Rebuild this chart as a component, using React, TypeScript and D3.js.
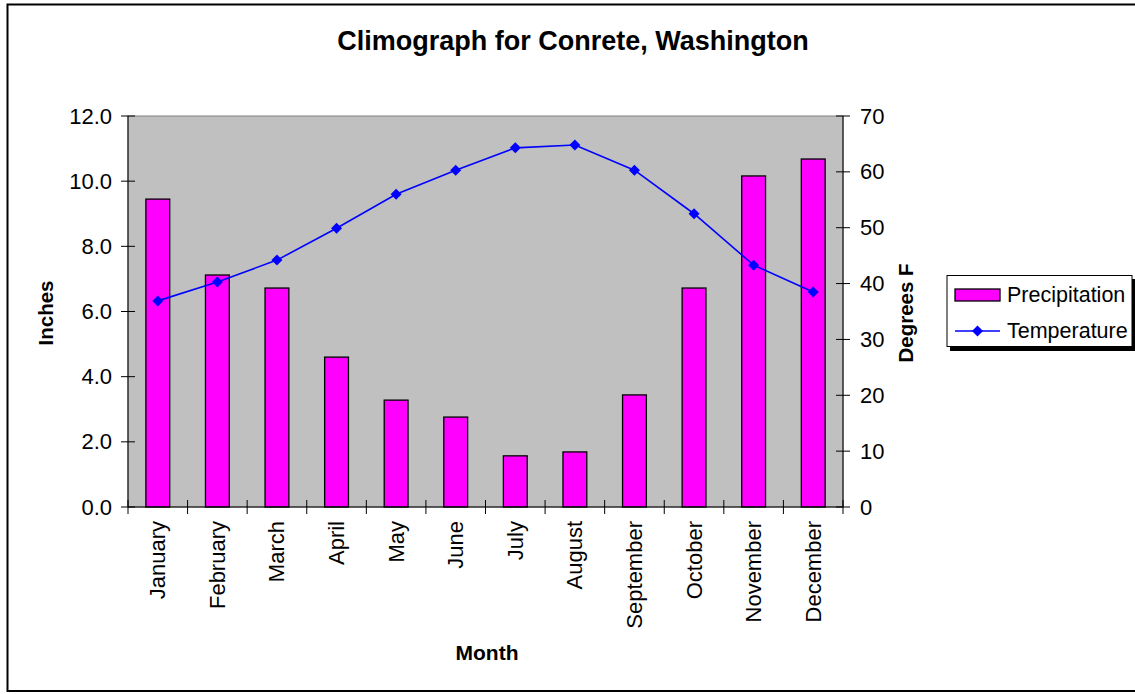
import * as d3 from "d3";

const months = ["January", "February", "March", "April", "May", "June", "July", "August", "September", "October", "November", "December"];
const precipitation = [9.45, 7.12, 6.72, 4.6, 3.28, 2.76, 1.57, 1.69, 3.44, 6.72, 10.16, 10.68];
const temperature = [36.9, 40.3, 44.2, 49.9, 56.0, 60.3, 64.3, 64.8, 60.3, 52.5, 43.3, 38.5];
const inchTicks = [0, 2, 4, 6, 8, 10, 12];
const degTicks = [0, 10, 20, 30, 40, 50, 60, 70];

export default function App() {
  const width = 1135,
    height = 694;
  const left = 128,
    right = 843,
    top = 116,
    bottom = 507,
    tick = 7,
    font = "'Liberation Sans', Arial, sans-serif";

  const x = d3.scaleBand<string>().domain(months).range([left, right]).paddingInner(0).paddingOuter(0);
  const barW = x.bandwidth() / 2.5;
  const yL = d3.scaleLinear().domain([0, 12]).range([bottom, top]);
  const yR = d3.scaleLinear().domain([0, 70]).range([bottom, top]);

  const line = d3
    .line<number>()
    .x((d, i) => (x(months[i]) as number) + x.bandwidth() / 2)
    .y((d) => yR(d));

  const diamond = (cx: number, cy: number, r: number) =>
    `M${cx},${cy - r}L${cx + r},${cy}L${cx},${cy + r}L${cx - r},${cy}Z`;

  return (
    <svg
      width={width}
      height={height}
      style={{ position: "absolute", left: 0, top: 0, background: "#fff" }}
      fontFamily={font}
    >
      <rect x={7.5} y={4.5} width={1140} height={686.5} fill="#fff" stroke="#000" strokeWidth={2} />
      <text x={573} y={50} textAnchor="middle" fontSize={27} fontWeight="bold">
        Climograph for Conrete, Washington
      </text>

      {/* plot area */}
      <rect x={left} y={top} width={right - left} height={bottom - top} fill="#c0c0c0" stroke="#808080" strokeWidth={1} />

      {/* bars */}
      {months.map((m, i) => (
        <rect
          key={m}
          x={(x(m) as number) + (x.bandwidth() - barW) / 2}
          y={yL(precipitation[i])}
          width={barW}
          height={bottom - yL(precipitation[i])}
          fill="#ff00ff"
          stroke="#000"
          strokeWidth={1.3}
        />
      ))}

      {/* temperature line */}
      <path d={line(temperature) || ""} fill="none" stroke="#0000ff" strokeWidth={1.6} />
      {temperature.map((t, i) => (
        <path
          key={i}
          d={diamond((x(months[i]) as number) + x.bandwidth() / 2, yR(t), 5.5)}
          fill="#0000ff"
        />
      ))}

      {/* left axis */}
      <line x1={left} y1={top} x2={left} y2={bottom} stroke="#000" />
      {inchTicks.map((v) => (
        <g key={v}>
          <line x1={left - tick} x2={left + tick} y1={yL(v)} y2={yL(v)} stroke="#000" />
          <text x={left - 16} y={yL(v)} textAnchor="end" dominantBaseline="central" fontSize={22}>
            {v.toFixed(1)}
          </text>
        </g>
      ))}

      {/* right axis */}
      <line x1={right} y1={top} x2={right} y2={bottom} stroke="#000" />
      {degTicks.map((v) => (
        <g key={v}>
          <line x1={right - tick} x2={right + tick} y1={yR(v)} y2={yR(v)} stroke="#000" />
          <text x={right + 17} y={yR(v)} textAnchor="start" dominantBaseline="central" fontSize={22}>
            {v}
          </text>
        </g>
      ))}

      {/* bottom axis */}
      <line x1={left} y1={bottom} x2={right} y2={bottom} stroke="#000" />
      {d3.range(months.length + 1).map((i) => {
        const xx = left + i * x.bandwidth();
        return <line key={i} x1={xx} x2={xx} y1={bottom - tick} y2={bottom + tick} stroke="#000" />;
      })}
      {months.map((m) => {
        const cx = (x(m) as number) + x.bandwidth() / 2;
        return (
          <text
            key={m}
            transform={`translate(${cx} ${bottom + 14}) rotate(-90)`}
            textAnchor="end"
            dominantBaseline="central"
            fontSize={22}
          >
            {m}
          </text>
        );
      })}

      {/* axis titles */}
      <text transform="translate(45 313) rotate(-90)" textAnchor="middle" dominantBaseline="central" fontSize={20.5} fontWeight="bold">
        Inches
      </text>
      <text transform="translate(905 313) rotate(-90)" textAnchor="middle" dominantBaseline="central" fontSize={20.5} fontWeight="bold">
        Degrees F
      </text>
      <text x={487} y={660} textAnchor="middle" fontSize={21} fontWeight="bold">
        Month
      </text>

      {/* legend */}
      <rect x={950} y={279} width={186} height={72} fill="#000" />
      <rect x={947} y={275.5} width={185} height={71} fill="#fff" stroke="#000" />
      <rect x={955} y={289} width={45} height={12} fill="#ff00ff" stroke="#000" strokeWidth={1.3} />
      <text x={1007} y={295} dominantBaseline="central" fontSize={21.5}>
        Precipitation
      </text>
      <line x1={955} x2={1000} y1={331} y2={331} stroke="#0000ff" strokeWidth={1.6} />
      <path d={diamond(977.5, 331, 5.5)} fill="#0000ff" />
      <text x={1007} y={331} dominantBaseline="central" fontSize={21.5}>
        Temperature
      </text>
    </svg>
  );
}
